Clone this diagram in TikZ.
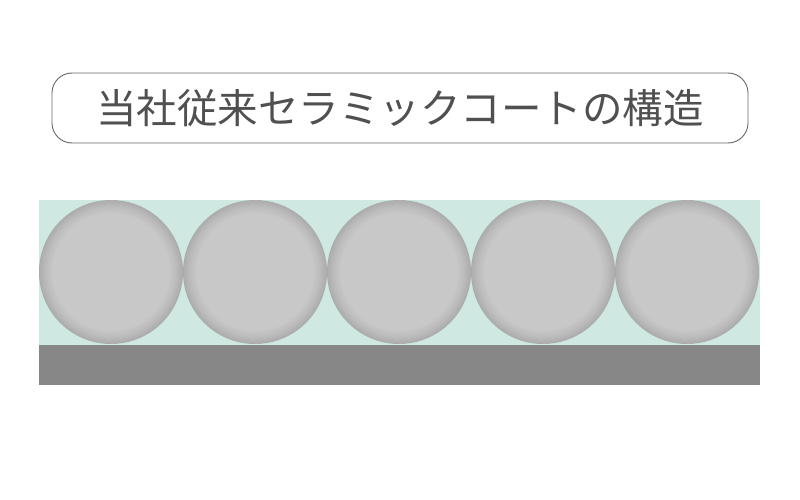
\documentclass[tikz,border=0pt]{standalone}
\usepackage{fontspec}
\newfontfamily\cjk{Noto Sans CJK JP}
\usetikzlibrary{positioning}
\definecolor{mint}{HTML}{CFE8E2}
\definecolor{base}{HTML}{888787}
\definecolor{beadgray}{HTML}{C8C8C8}
\definecolor{beadedge}{HTML}{ACACAC}
\definecolor{titlegray}{HTML}{505050}
\tikzset{
  titlebox/.style={draw=black!60, line width=0.9pt, rounded corners=20pt, minimum width=696pt, minimum height=70pt, text=titlegray, font=\cjk\fontsize{40.5}{46}\selectfont},
  bead/.style={circle, minimum size=144pt, inner sep=0pt, fill=beadedge,
    path picture={
      \foreach \k in {1,...,10}
        \fill[beadgray!\k0!beadedge] (path picture bounding box.center) circle [radius=72pt-0.9pt*\k-0.04pt*\k*\k];
    }},
}

\begin{document}
\begin{tikzpicture}[x=1pt, y=-1pt, node distance=144pt]
				\useasboundingbox (0,0) rectangle (800,500);
				\node[titlebox] (title) at (400,108) {当社従来セラミックコートの構造};
				\node[fill=mint, minimum width=721pt, minimum height=145pt, inner sep=0pt] (coat) at (399.5,272.5) {};
				\node[fill=base, minimum width=721pt, minimum height=40pt, inner sep=0pt] (plate) at (399.5,364.5) {};
				\node[bead] (b1) at (111,272) {};
				\node[bead, right of=b1] (b2) {};
				\node[bead, right of=b2] (b3) {};
				\node[bead, right of=b3] (b4) {};
				\node[bead, right of=b4] (b5) {};
			\end{tikzpicture}
\end{document}
